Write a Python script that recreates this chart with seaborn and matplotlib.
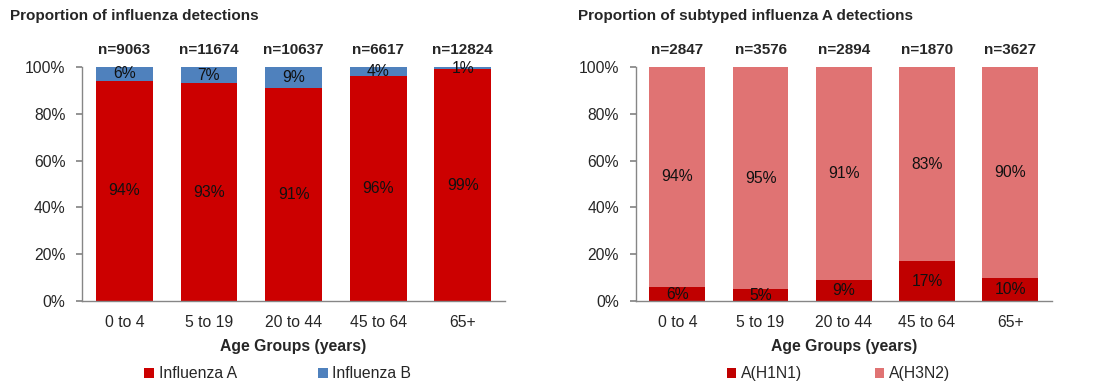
import matplotlib
matplotlib.use('Agg')
import matplotlib.pyplot as plt
import seaborn as sns
import numpy as np

# Datos
grupos = ['0 to 4', '5 to 19', '20 to 44', '45 to 64', '65+']

n_total = [9063, 11674, 10637, 6617, 12824]
flu_a = [94, 93, 91, 96, 99]
flu_b = [6, 7, 9, 4, 1]

n_subtipo = [2847, 3576, 2894, 1870, 3627]
h1n1 = [6, 5, 9, 17, 10]
h3n2 = [94, 95, 91, 83, 90]

ROJO = '#CC0000'
AZUL = '#4F81BD'
ROJO_OSC = '#C00000'
ROSA = '#E07373'
GRIS = '#868686'

sns.set_theme(style='white')
plt.rcParams['font.family'] = ['Liberation Sans', 'DejaVu Sans']

fig = plt.figure(figsize=(10.98, 3.91), dpi=100)
ax1 = fig.add_axes([0.0747, 0.230, 0.3853, 0.599])
ax2 = fig.add_axes([0.579, 0.230, 0.379, 0.599])

TXT = 11.3


def panel(ax, abajo, arriba, ns, c_abajo, c_arriba, nombres, ley_x, sep):
    total = [a + b for a, b in zip(abajo, arriba)]
    sns.barplot(x=grupos, y=total, color=c_arriba, saturation=1,
                width=0.67, ax=ax, label=nombres[1], linewidth=0)
    sns.barplot(x=grupos, y=abajo, color=c_abajo, saturation=1,
                width=0.67, ax=ax, label=nombres[0], linewidth=0)

    for i in range(len(grupos)):
        ax.text(i, abajo[i] / 2, f'{abajo[i]}%', ha='center', va='center',
                fontsize=TXT, color='#111111')
        ax.text(i, abajo[i] + arriba[i] / 2, f'{arriba[i]}%', ha='center',
                va='center', fontsize=TXT, color='#111111')
        ax.text(i, 107.3, f'n={ns[i]}', ha='center', va='center',
                fontsize=11, fontweight='bold', clip_on=False)

    ax.set_ylim(0, 100)
    ax.set_xlim(-0.5, len(grupos) - 0.5)
    ax.set_yticks(np.arange(0, 101, 20))
    ax.set_yticklabels([f'{v}%' for v in range(0, 101, 20)])
    ax.set_xticks(np.arange(-0.5, len(grupos), 1), minor=True)
    ax.tick_params(axis='x', which='major', length=0, pad=10, labelsize=TXT)
    ax.tick_params(axis='x', which='minor', length=5, color=GRIS, direction='out')
    ax.tick_params(axis='y', length=4, color=GRIS, direction='out', pad=8,
                   labelsize=TXT, left=True)
    for lado in ['top', 'right']:
        ax.spines[lado].set_visible(False)
    for lado in ['left', 'bottom']:
        ax.spines[lado].set_color(GRIS)
        ax.spines[lado].set_linewidth(1)

    ax.set_ylabel('')
    ax.set_xlabel('Age Groups (years)', fontsize=TXT, fontweight='bold')
    ax.xaxis.set_label_coords(0.5, -0.16)

    handles, labels = ax.get_legend_handles_labels()
    orden = [labels.index(nombres[0]), labels.index(nombres[1])]
    ax.legend([handles[k] for k in orden], [labels[k] for k in orden],
              ncol=2, loc='center', bbox_to_anchor=(ley_x, -0.31),
              frameon=False, fontsize=TXT, handlelength=0.6,
              handleheight=0.6, handletextpad=0.3, columnspacing=sep)


panel(ax1, flu_a, flu_b, n_total, ROJO, AZUL,
      ['Influenza A', 'Influenza B'], 0.463, 5.2)
panel(ax2, h1n1, h3n2, n_subtipo, ROJO_OSC, ROSA,
      ['A(H1N1)', 'A(H3N2)'], 0.487, 4.6)

fig.text(10 / 1098, 1 - 16 / 391, 'Proportion of influenza detections',
         fontsize=11, fontweight='bold', va='center', ha='left')
fig.text(578 / 1098, 1 - 16 / 391, 'Proportion of subtyped influenza A detections',
         fontsize=11, fontweight='bold', va='center', ha='left')

fig.savefig('out.png', dpi=100)
